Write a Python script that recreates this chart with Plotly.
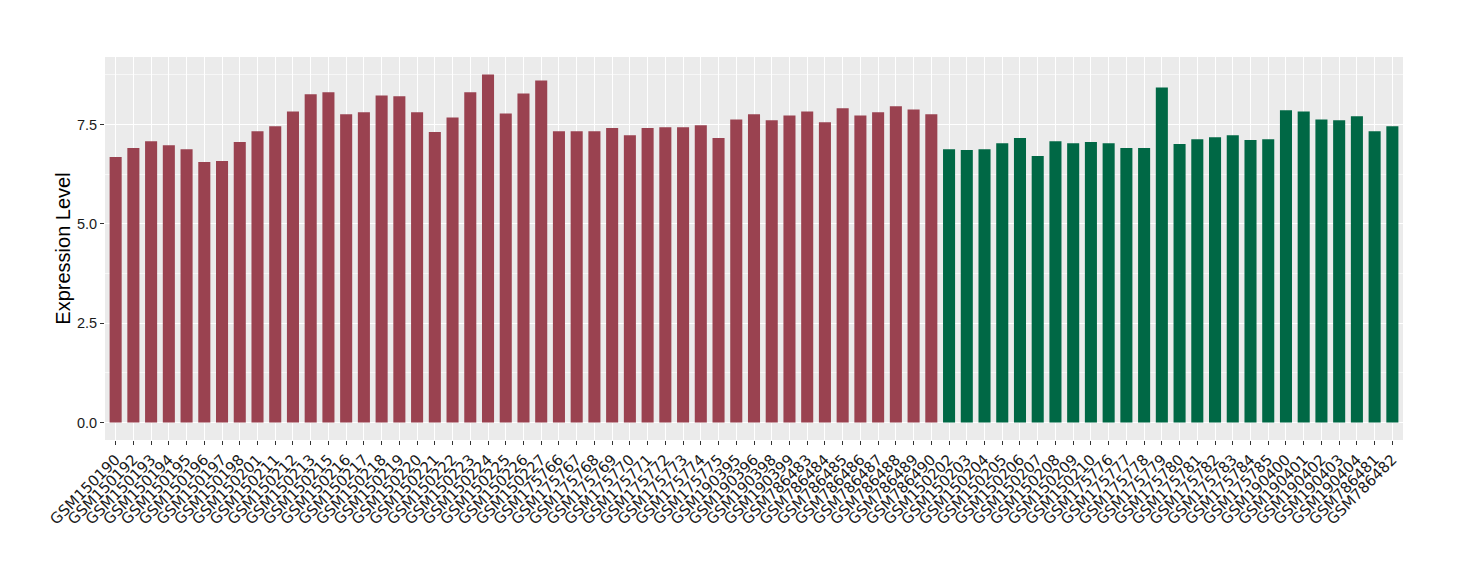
import plotly.graph_objects as go

group_a_samples = ["GSM150190", "GSM150192", "GSM150193", "GSM150194", "GSM150195", "GSM150196",
                   "GSM150197", "GSM150198", "GSM150201", "GSM150211", "GSM150212", "GSM150213",
                   "GSM150215", "GSM150216", "GSM150217", "GSM150218", "GSM150219", "GSM150220",
                   "GSM150221", "GSM150222", "GSM150223", "GSM150224", "GSM150225", "GSM150226",
                   "GSM150227", "GSM175766", "GSM175767", "GSM175768", "GSM175769", "GSM175770",
                   "GSM175771", "GSM175772", "GSM175773", "GSM175774", "GSM175775", "GSM190395",
                   "GSM190396", "GSM190398", "GSM190399", "GSM786483", "GSM786484", "GSM786485",
                   "GSM786486", "GSM786487", "GSM786488", "GSM786489", "GSM786490"]
group_a_values = [6.68, 6.91, 7.08, 6.98, 6.88, 6.56, 6.58, 7.06, 7.33, 7.46, 7.83, 8.26,
                  8.31, 7.76, 7.81, 8.23, 8.21, 7.81, 7.31, 7.68, 8.31, 8.76, 7.78, 8.28, 8.61,
                  7.33, 7.33, 7.33, 7.41, 7.23, 7.41, 7.43, 7.43, 7.48, 7.16,
                  7.63, 7.76, 7.61, 7.73,
                  7.83, 7.56, 7.91, 7.73, 7.81, 7.96, 7.88, 7.76]

group_b_samples = ["GSM150202", "GSM150203", "GSM150204", "GSM150205", "GSM150206", "GSM150207",
                   "GSM150208", "GSM150209", "GSM150210", "GSM175776", "GSM175777", "GSM175778",
                   "GSM175779", "GSM175780", "GSM175781", "GSM175782", "GSM175783", "GSM175784",
                   "GSM175785", "GSM190400", "GSM190401", "GSM190402", "GSM190403", "GSM190404",
                   "GSM786481", "GSM786482"]
group_b_values = [6.88, 6.86, 6.88, 7.03, 7.16, 6.71, 7.08, 7.03, 7.06,
                  7.03, 6.91, 6.91, 8.43, 7.01, 7.13, 7.18, 7.23, 7.11, 7.13,
                  7.86, 7.83, 7.63, 7.61, 7.71,
                  7.33, 7.46]

y_tick_vals = [0, 2.5, 5, 7.5]
y_tick_text = ["0.0", "2.5", "5.0", "7.5"]

color_a = "#9A4250"
color_b = "#006845"
font_family = "Liberation Sans, Arial, sans-serif"

all_samples = group_a_samples + group_b_samples

fig = go.Figure()
fig.add_trace(go.Bar(x=group_a_samples, y=group_a_values, marker=dict(color=color_a, line=dict(width=0)),
                     showlegend=False))
fig.add_trace(go.Bar(x=group_b_samples, y=group_b_values, marker=dict(color=color_b, line=dict(width=0)),
                     showlegend=False))

# page body has an 8px default margin, so the plot area is placed accordingly
fig.update_layout(
    width=1460, height=580,
    margin=dict(l=97, r=65, t=49, b=148, autoexpand=False),
    paper_bgcolor="white",
    plot_bgcolor="#EBEBEB",
    bargap=0.32,
    barmode="group",
    font=dict(family=font_family, color="#1A1A1A"),
)
fig.update_xaxes(
    type="category",
    categoryorder="array", categoryarray=all_samples,
    tickmode="array", tickvals=all_samples, ticktext=all_samples,
    range=[-0.6, len(all_samples) - 0.4],
    tickangle=-45,
    tickfont=dict(family="DejaVu Sans, sans-serif", size=15, color="#1A1A1A"),
    ticks="outside", ticklen=4, tickcolor="#333333", tickwidth=1,
    showgrid=True, gridcolor="white", gridwidth=1.1,
    zeroline=False, showline=False,
    automargin=False,
)
fig.update_yaxes(
    range=[-0.44, 9.2],
    tickvals=y_tick_vals, ticktext=y_tick_text,
    tickfont=dict(size=14.5, color="#1A1A1A"),
    ticks="outside", ticklen=4, tickcolor="#333333", tickwidth=1,
    showgrid=True, gridcolor="white", gridwidth=1.1,
    minor=dict(dtick=1.25, tick0=1.25, showgrid=True, gridcolor="#F7F7F7", gridwidth=0.6, ticks=""),
    zeroline=False, showline=False,
    title=dict(text="Expression Level", font=dict(size=20, color="black"), standoff=0),
    automargin=False,
)

fig.write_html("out.html")
